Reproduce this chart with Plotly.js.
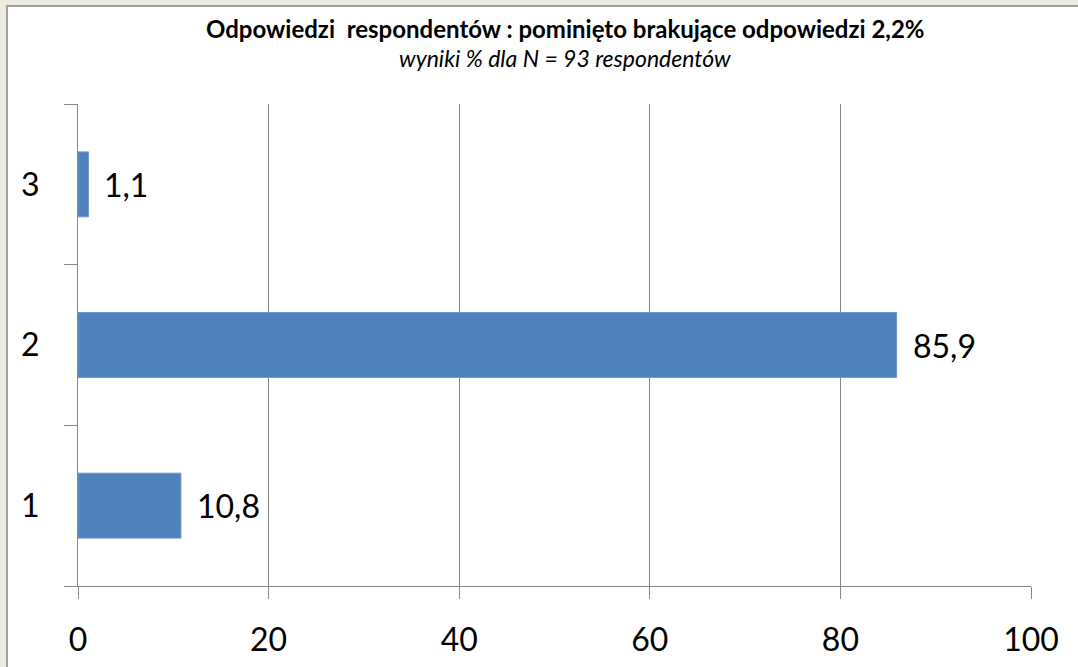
<!DOCTYPE html>
<html>
<head>
<meta charset="utf-8">
<script src="https://cdn.plot.ly/plotly-3.0.1.min.js"></script>
<style>
html,body{margin:0;padding:0;background:#eeece1;width:1078px;height:667px;overflow:hidden;}
#frame{position:absolute;left:6px;top:5px;width:1080px;height:670px;background:#ffffff;border-top:2px solid #a0a0a0;border-left:2px solid #a0a0a0;}
#chart{position:absolute;left:0;top:0;width:1078px;height:667px;}
</style>
</head>
<body>
<div id="frame"></div>
<div id="chart"></div>
<script>
var categories = ['1', '2', '3'];
var values = [10.8, 85.9, 1.1];
var valueLabels = ['10,8', '85,9', '1,1'];
var xTicks = [0, 20, 40, 60, 80, 100];
var titleMain = 'Odpowiedzi  respondentów : pominięto brakujące odpowiedzi 2,2%';
var titleSub = 'wyniki % dla N = 93 respondentów';

var FONT = 'Lato, "Open Sans", sans-serif';

var trace = {
  type: 'bar',
  orientation: 'h',
  x: values,
  y: categories,
  marker: {color: '#4f81bd', line: {color: '#6f97cc', width: 1}},
  hoverinfo: 'none'
};

var annotations = values.map(function (v, i) {
  return {
    x: v, y: i, xref: 'x', yref: 'y',
    text: valueLabels[i], showarrow: false,
    xanchor: 'left', yanchor: 'middle', xshift: 14,
    font: {family: FONT, size: 32, color: '#000000'}
  };
});

annotations.push({
  xref: 'paper', yref: 'paper', x: (565 - 78) / (1031 - 78), y: 1, yshift: 76,
  xanchor: 'center', yanchor: 'middle', showarrow: false,
  text: '<b>' + titleMain + '</b>',
  font: {family: FONT, size: 24, color: '#000000'}
});
annotations.push({
  xref: 'paper', yref: 'paper', x: (565 - 78) / (1031 - 78), y: 1, yshift: 46,
  xanchor: 'center', yanchor: 'middle', showarrow: false,
  text: '<i>' + titleSub + '</i>',
  font: {family: FONT, size: 23, color: '#000000'}
});

var layout = {
  width: 1078, height: 667,
  paper_bgcolor: 'rgba(0,0,0,0)',
  plot_bgcolor: 'rgba(0,0,0,0)',
  margin: {l: 78, r: 47, t: 104, b: 81},
  showlegend: false,
  bargap: 0.596,
  xaxis: {
    range: [0, 100],
    tickvals: xTicks,
    ticktext: xTicks.map(String),
    showgrid: true, gridcolor: '#878787', gridwidth: 1,
    zeroline: false,
    showline: true, linecolor: '#878787', linewidth: 1,
    ticks: 'outside', ticklen: 12, tickcolor: '#878787', tickwidth: 1,
    ticklabelstandoff: 14,
    tickfont: {family: FONT, size: 32, color: '#000000'},
    fixedrange: true
  },
  yaxis: {
    type: 'category',
    range: [-0.5, 2.5],
    tickson: 'boundaries',
    showgrid: false,
    zeroline: false,
    showline: true, linecolor: '#878787', linewidth: 1,
    ticks: 'outside', ticklen: 13, tickcolor: '#878787', tickwidth: 1,
    ticklabelstandoff: 31,
    tickfont: {family: FONT, size: 32, color: '#000000'},
    fixedrange: true
  },
  annotations: annotations
};

Plotly.newPlot('chart', [trace], layout, {displayModeBar: false, staticPlot: true});
</script>
</body>
</html>
